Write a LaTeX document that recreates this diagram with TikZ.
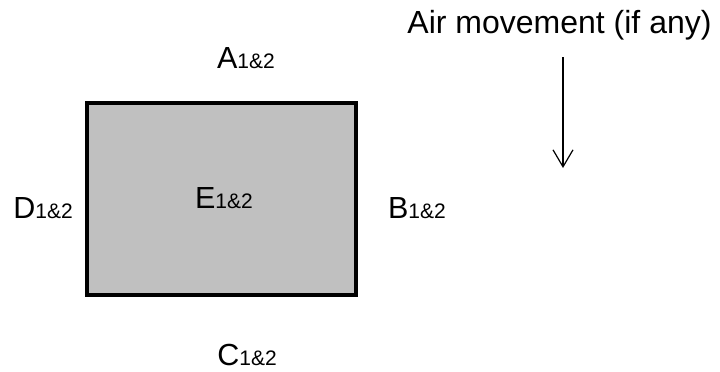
\documentclass[tikz,border=0pt]{standalone}
\usepackage{fontspec}
\setmainfont{Liberation Sans}
\usetikzlibrary{arrows.meta}
\newcommand{\lbl}[2]{#1{\fontsize{21}{21}\selectfont\raisebox{-0.5pt}{#2}}}
\tikzset{
  lab/.style={inner sep=0pt, anchor=base, font=\fontsize{30.5}{30.5}\selectfont},
  box/.style={draw=black, fill={rgb,255:red,192;green,192;blue,192}, line width=4pt, inner sep=0pt},
  flow/.style={line width=1.2pt, -{Straight Barb[length=17pt, width=20pt, line width=1.2pt]}}
}
\begin{document}
\begin{tikzpicture}[x=1pt,y=-1pt]
\useasboundingbox (0,0) rectangle (720,372);
\node[box, minimum width=269pt, minimum height=192pt] (rect) at (221.5,199) {};
\node[lab] (A) at (246,68) {\lbl{A}{1\&2}};
\node[lab] (E) at (224,208) {\lbl{E}{1\&2}};
\node[lab] (D) at (43,218) {\lbl{D}{1\&2}};
\node[lab] (B) at (417,218) {\lbl{B}{1\&2}};
\node[lab] (C) at (247,365) {\lbl{C}{1\&2}};
\node[lab, font=\fontsize{32}{32}\selectfont] (air) at (559.5,33) {Air movement (if any)};
\coordinate (s) at (563,57);
\coordinate (t) at (563,168);
\draw[flow] (s) -- (t);
\end{tikzpicture}
\end{document}
